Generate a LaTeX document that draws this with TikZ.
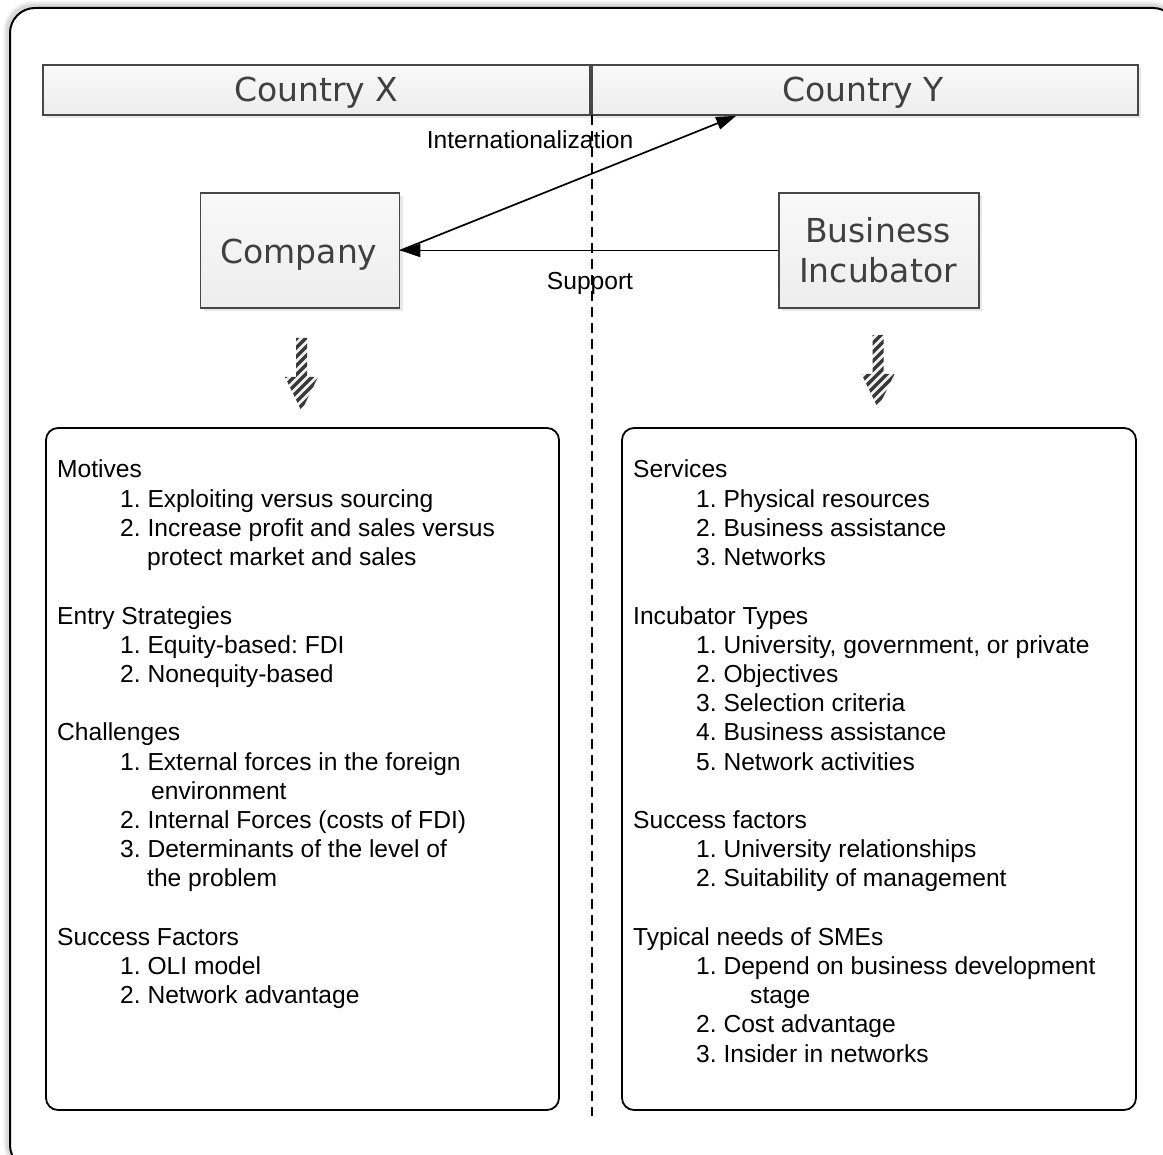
\documentclass[tikz,border=0pt]{standalone}
\usepackage{fontspec}
\setmainfont{Liberation Sans}
\newfontfamily\titlefont{DejaVu Sans}
\usetikzlibrary{arrows.meta,shadows}
\frenchspacing
\begin{document}
\begin{tikzpicture}[x=1pt,y=-1pt,
  title/.style={font=\titlefont\fontsize{33}{40}\selectfont, text=black!75},
  band/.style={draw=black!72, line width=1.6pt, inner sep=0pt,
    top color=gray!5, bottom color=gray!14,
    drop shadow={opacity=.18, shadow xshift=3pt, shadow yshift=-3pt}},
  panel/.style={draw=black, line width=1.8pt, rounded corners=12pt, inner sep=0pt},
  item/.style={font=\fontsize{24.6}{29.2}\selectfont, anchor=base west, inner sep=0pt},
  lbl/.style={font=\fontsize{24.6}{29.2}\selectfont, inner sep=0pt, anchor=base},
  conn/.style={line width=1.7pt, -{Triangle[length=20pt,width=13pt]}}
]
\useasboundingbox (0,0) rectangle (1163,1155);
\clip (0,0) rectangle (1163,1155);

% outer frame with a soft halo
\foreach \w/\o in {10/0.04,7/0.05,4/0.07}
  \draw[line width=\w pt, black, opacity=\o, rounded corners=25pt] (8,6) rectangle (1176,1168);
\draw[line width=2pt, fill=white, rounded corners=25pt] (10,8) rectangle (1178,1170);

% country bands
\node[band, minimum width=547pt, minimum height=50pt] (cx) at (316.5,90) {};
\node[band, minimum width=546pt, minimum height=50pt] (cy) at (865,90) {};
\node[title, anchor=base, inner sep=0pt] (cxt) at (316.5,102) {Country X};
\node[title, anchor=base, inner sep=0pt] (cyt) at (863,102) {Country Y};

% actors
\node[band, minimum width=199pt, minimum height=115pt] (co) at (300,250.5) {};
\node[band, minimum width=200pt, minimum height=115pt] (bi) at (879,250.5) {};
\node[title, anchor=base, inner sep=0pt] (cot) at (299,264) {Company};
\node[title, anchor=base, inner sep=0pt] (bit1) at (878,243) {Business};
\node[title, anchor=base, inner sep=0pt] (bit2) at (878,283) {Incubator};

% border between the two countries
\coordinate (dtop) at (592,115);
\coordinate (dbot) at (592,1116);
\draw[line width=1.7pt, dash pattern=on 10pt off 6pt] (dtop) -- (dbot);

% relations
\coordinate (tint) at ([xshift=145pt]cy.south west);
\draw[conn] (co.east) -- (tint);
\draw[conn] (bi.west) -- (co.east);
\node[lbl] (lint) at (530,149) {Internationalization};
\node[lbl] (lsup) at (590,290) {Support};

% striped down arrows
\begin{scope}
  \clip (296,338) -- (307,338) -- (307,377) -- (318,377) -- (301.5,411)
    -- (285,377) -- (296,377) -- cycle;
  \fill[gray!12] (280,330) rectangle (325,415);
  \foreach \k in {0,...,14}
    \draw[line width=3.3pt, black!78] (260,{330+\k*9}) -- ++(60,-60);
\end{scope}
\begin{scope}
  \clip (872.5,335) -- (883.5,335) -- (883.5,374) -- (894.5,374) -- (878,408)
    -- (861.5,374) -- (872.5,374) -- cycle;
  \fill[gray!12] (855,328) rectangle (900,412);
  \foreach \k in {0,...,14}
    \draw[line width=3.3pt, black!78] (835,{327+\k*9}) -- ++(60,-60);
\end{scope}

% content panels
\node[panel, minimum width=513pt, minimum height=682pt] (lp) at (302.5,769) {};
\node[panel, minimum width=514pt, minimum height=682pt] (rp) at (879,769) {};

% company side
\foreach \r/\xx/\t [count=\i] in {
  0/57/Motives,
  1/120/{1. Exploiting versus sourcing},
  2/120/{2. Increase profit and sales versus},
  3/147/{protect market and sales},
  5/57/{Entry Strategies},
  6/120/{1. Equity-based: FDI},
  7/120/{2. Nonequity-based},
  9/57/Challenges,
  10/120/{1. External forces in the foreign},
  11/151/{environment},
  12/120/{2. Internal Forces (costs of FDI)},
  13/120/{3. Determinants of the level of},
  14/147/{the problem},
  16/57/{Success Factors},
  17/120/{1. OLI model},
  18/120/{2. Network advantage}}
  \node[item] (L\i) at (\xx,{478+\r*29.2}) {\t};

% incubator side
\foreach \r/\xx/\t [count=\i] in {
  0/633/Services,
  1/696/{1. Physical resources},
  2/696/{2. Business assistance},
  3/696/{3. Networks},
  5/633/{Incubator Types},
  6/696/{1. University, government, or private},
  7/696/{2. Objectives},
  8/696/{3. Selection criteria},
  9/696/{4. Business assistance},
  10/696/{5. Network activities},
  12/633/{Success factors},
  13/696/{1. University relationships},
  14/696/{2. Suitability of management},
  16/633/{Typical needs of SMEs},
  17/696/{1. Depend on business development},
  18/750/{stage},
  19/696/{2. Cost advantage},
  20/696/{3. Insider in networks}}
  \node[item] (R\i) at (\xx,{478+\r*29.2}) {\t};
\end{tikzpicture}
\end{document}
